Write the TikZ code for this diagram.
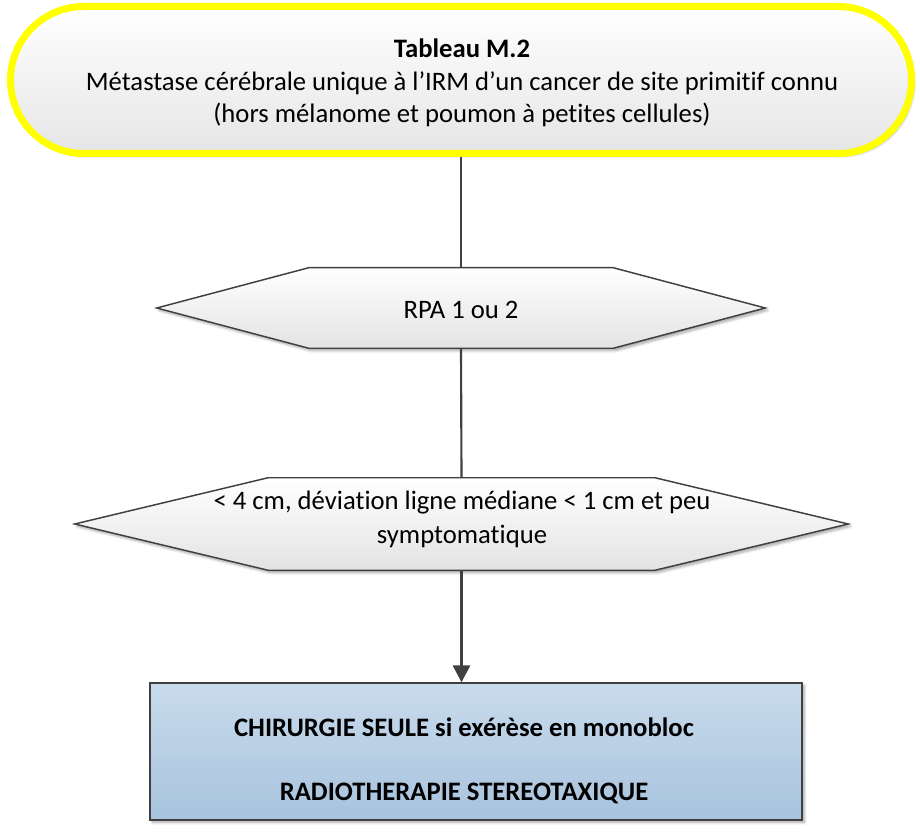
\documentclass[tikz,border=0pt]{standalone}
\usepackage{fontspec}
\setmainfont{Carlito}[Ligatures=NoCommon]
\usetikzlibrary{arrows.meta,shadows.blur}
\definecolor{lineg}{HTML}{404040}
\definecolor{ylw}{HTML}{FFFF00}
\definecolor{bluetop}{HTML}{C8DBEC}
\definecolor{bluebot}{HTML}{A8C3DD}
\begin{document}
\begin{tikzpicture}[x=0.75pt,y=-0.75pt,
  txt/.style={font=\fontsize{20}{24.4}\selectfont, align=center, text=black, inner sep=0pt},
  conn/.style={draw=lineg, line width=1.6pt},
  arr/.style={conn, -{Triangle[length=12.75pt,width=13pt]}},
  shd/.style={blur shadow={shadow xshift=1.8pt, shadow yshift=-1.8pt, shadow blur steps=6, shadow opacity=35}},
  hexbox/.style={draw=lineg, line width=1.1pt, top color=white, bottom color=black!11, shd},
  frame/.style={inner sep=0pt},
  startbox/.style={draw=ylw, line width=5.25pt, rounded corners=55pt, top color=white, bottom color=black!10, shd,
     minimum width=675.75pt, minimum height=110.25pt, inner sep=0pt},
  resbox/.style={draw=lineg, line width=1.1pt, top color=bluetop, bottom color=bluebot, shd,
     minimum width=489pt, minimum height=102.75pt, inner sep=0pt}
]
\useasboundingbox (0,0) rectangle (920,837);

% start box
\node[startbox] (top) at (461,80) {};
\node[txt] (toptext) at (462,83) {\textbf{Tableau M.2}\\Métastase cérébrale unique à l’IRM d’un cancer de site primitif connu\\(hors mélanome et poumon à petites cellules)};

% hexagon 1
\node[frame, minimum width=456pt, minimum height=60pt] (h1) at (461,308) {};
\draw[hexbox] (h1.west) -- ([xshift=114pt]h1.north west) -- ([xshift=-114pt]h1.north east) -- (h1.east)
   -- ([xshift=-114pt]h1.south east) -- ([xshift=114pt]h1.south west) -- cycle;
\node[txt] (h1text) at (461,310) {RPA 1 ou 2};

% hexagon 2
\node[frame, minimum width=579.75pt, minimum height=69pt] (h2) at (461.5,524) {};
\draw[hexbox] (h2.west) -- ([xshift=145pt]h2.north west) -- ([xshift=-145pt]h2.north east) -- (h2.east)
   -- ([xshift=-145pt]h2.south east) -- ([xshift=145pt]h2.south west) -- cycle;
\node[txt, font=\fontsize{20}{25.5}\selectfont] (h2text) at (462,519) {< 4 cm, déviation ligne médiane < 1 cm et peu\\symptomatique};

% result box
\node[resbox] (res) at (476,751.5) {};
\node[txt, font=\bfseries\fontsize{20}{24.4}\selectfont] (restext) at (464,761) {CHIRURGIE SEULE si exérèse en monobloc\\[23.6pt]RADIOTHERAPIE STEREOTAXIQUE};

% connectors
\draw[conn] (top.south) -- (h1.north);
\draw[conn] (h1.south) -- (h2.north);
\draw[arr] (h2.south) -- (h2.south |- res.north);
\end{tikzpicture}
\end{document}
